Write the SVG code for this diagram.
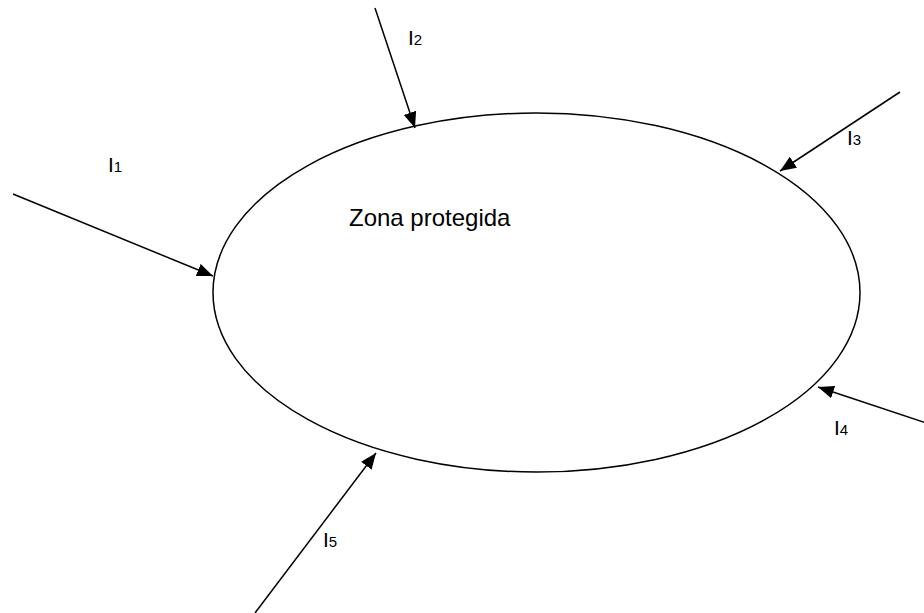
<svg xmlns="http://www.w3.org/2000/svg" width="924" height="613" viewBox="0 0 924 613">
<style>
.ln{stroke:#000;stroke-width:1.5;fill:none}
.t{font-family:"Liberation Sans",Arial,sans-serif;fill:#000}
.lb{font-size:21px}
.sb{font-size:15px}
</style>
<defs>
<marker id="ah" markerUnits="userSpaceOnUse" markerWidth="18" markerHeight="14" refX="16" refY="7" orient="auto">
<path d="M0,0.5 L16,7 L0,13.5 Z" fill="#000"/>
</marker>
</defs>
<rect width="924" height="613" fill="#fff"/>
<g id="zona">
<ellipse cx="536.5" cy="292.5" rx="323.5" ry="179.5" class="ln"/>
<text class="t" x="349" y="226" font-size="24">Zona protegida</text>
</g>
<g id="connectors">
<line class="ln" x1="13" y1="194" x2="213" y2="276" marker-end="url(#ah)"/>
<line class="ln" x1="375" y1="8" x2="415" y2="128" marker-end="url(#ah)"/>
<line class="ln" x1="900" y1="92" x2="780" y2="171" marker-end="url(#ah)"/>
<line class="ln" x1="926" y1="423" x2="818" y2="387" marker-end="url(#ah)"/>
<line class="ln" x1="255" y1="613" x2="376" y2="453" marker-end="url(#ah)"/>
</g>
<g id="labels">
<text class="t lb" x="108" y="172">I<tspan class="sb">1</tspan></text>
<text class="t lb" x="408" y="45">I<tspan class="sb">2</tspan></text>
<text class="t lb" x="847" y="145">I<tspan class="sb">3</tspan></text>
<text class="t lb" x="834" y="435">I<tspan class="sb">4</tspan></text>
<text class="t lb" x="323" y="547">I<tspan class="sb">5</tspan></text>
</g>
</svg>
